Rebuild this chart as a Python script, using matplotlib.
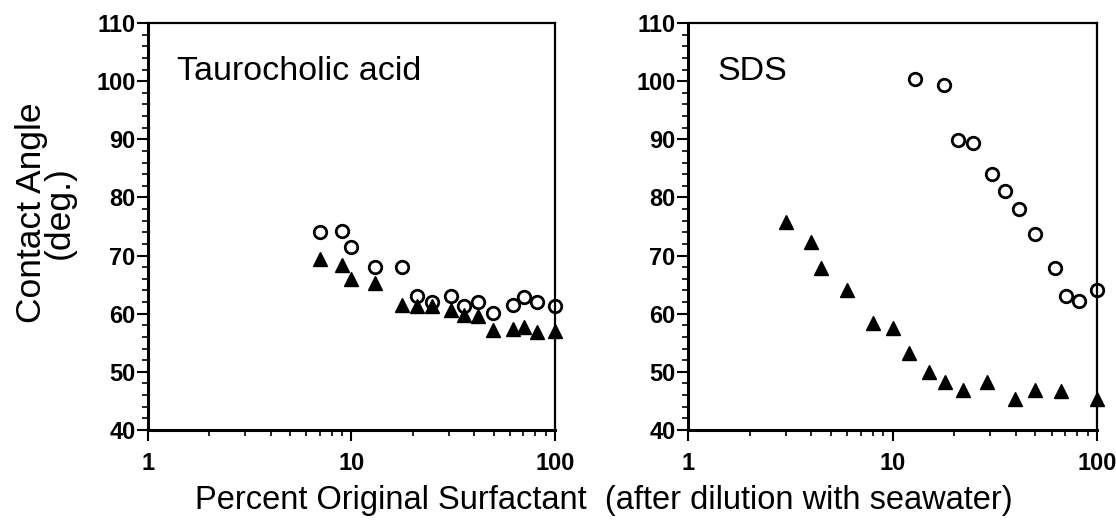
import matplotlib
matplotlib.use("Agg")
import matplotlib.pyplot as plt
from matplotlib.ticker import MultipleLocator, LogLocator, FixedLocator, NullFormatter

plt.rcParams['font.family'] = ['Liberation Sans', 'DejaVu Sans']

# Taurocholic acid
tc_open_x = [7.0, 9.0, 10.0, 13.1, 17.8, 20.9, 25.0, 30.9, 35.6, 41.7, 49.6, 62.0, 70.4, 81.5, 100]
tc_open_y = [74.1, 74.3, 71.4, 68.0, 68.1, 63.0, 62.1, 63.0, 61.3, 62.1, 60.1, 61.5, 62.9, 62.1, 61.3]
tc_fill_x = [7.0, 9.0, 10.0, 13.0, 17.8, 21.0, 25.0, 30.9, 35.7, 41.7, 49.6, 62.0, 70.6, 81.7, 100]
tc_fill_y = [69.4, 68.4, 66.0, 65.2, 61.5, 61.3, 61.3, 60.7, 59.8, 59.6, 57.2, 57.3, 57.8, 56.9, 57.1]

# SDS
sds_open_x = [12.9, 17.9, 20.8, 24.8, 30.8, 35.5, 41.7, 49.7, 62.3, 70.5, 81.6, 100]
sds_open_y = [100.3, 99.3, 89.9, 89.3, 84.1, 81.1, 78.0, 73.7, 67.8, 63.0, 62.2, 64.1]
sds_fill_x = [3.0, 4.0, 4.45, 6.0, 8.0, 10.0, 12.0, 15.0, 18.1, 22.2, 28.9, 39.7, 49.7, 66.4, 100]
sds_fill_y = [75.8, 72.4, 67.8, 64.1, 58.4, 57.5, 53.2, 50.0, 48.2, 46.8, 48.3, 45.3, 46.9, 46.7, 45.4]

panels = [
    ("Taurocholic acid", tc_open_x, tc_open_y, tc_fill_x, tc_fill_y),
    ("SDS", sds_open_x, sds_open_y, sds_fill_x, sds_fill_y),
]

fig = plt.figure(figsize=(11.16, 5.26), dpi=100)
ax_left = fig.add_axes([0.1326, 0.1825, 0.3647, 0.7738])
ax_right = fig.add_axes([0.6165, 0.1825, 0.3665, 0.7738])

for ax, (name, ox, oy, fx, fy) in zip([ax_left, ax_right], panels):
    ax.plot(fx, fy, linestyle='none', marker='^', markersize=10.5,
            color='black', clip_on=False, zorder=3)
    ax.plot(ox, oy, linestyle='none', marker='o', markersize=9,
            markerfacecolor='none', markeredgecolor='black',
            markeredgewidth=2.0, clip_on=False, zorder=4)
    ax.set_xscale('log')
    ax.set_xlim(1, 100)
    ax.set_ylim(40, 110)
    ax.yaxis.set_major_locator(MultipleLocator(10))
    ax.yaxis.set_minor_locator(MultipleLocator(2))
    ax.xaxis.set_major_locator(FixedLocator([1, 10, 100]))
    ax.xaxis.set_minor_locator(LogLocator(base=10, subs=range(2, 10)))
    ax.xaxis.set_minor_formatter(NullFormatter())
    ax.set_xticklabels(['1', '10', '100'])
    ax.tick_params(which='major', direction='out', length=8, width=1.5,
                   labelsize=17, top=False, right=False, pad=1)
    ax.tick_params(which='minor', direction='out', length=4, width=1.2,
                   top=False, right=False)
    ax.tick_params(axis='x', which='major', pad=8)
    for lbl in ax.get_xticklabels() + ax.get_yticklabels():
        lbl.set_fontweight('bold')
    for side in ['left', 'bottom']:
        ax.spines[side].set_linewidth(2.2)
    for side in ['top', 'right']:
        ax.spines[side].set_linewidth(1.6)
    ax.text(0.072, 0.881, name, transform=ax.transAxes, fontsize=24.5,
            ha='left', va='center')

fig.text(0.041, 1 - 213 / 526, "Contact Angle\n(deg.)", fontsize=25.5,
         rotation=90, ha='center', va='center', multialignment='center',
         linespacing=0.8)
fig.text(0.541, 0.048, "Percent Original Surfactant  (after dilution with seawater)",
         fontsize=23.5, ha='center', va='center')

fig.savefig("out.png", dpi=100)
